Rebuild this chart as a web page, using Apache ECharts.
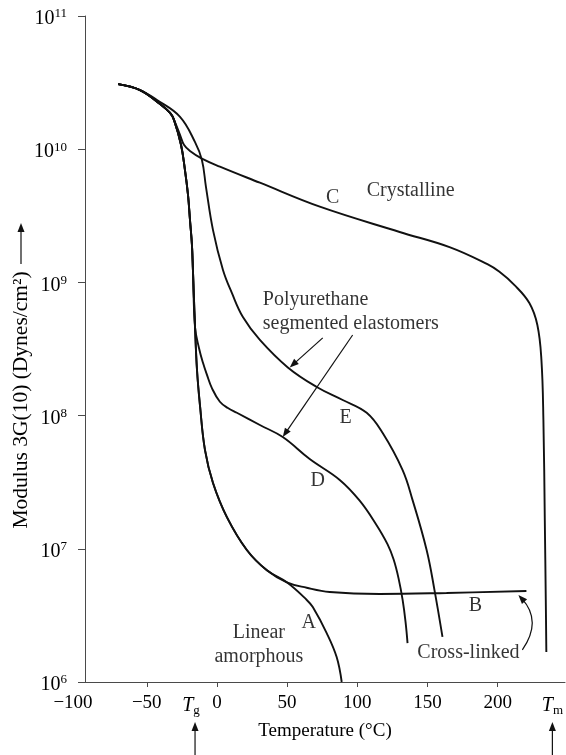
<!DOCTYPE html>
<html>
<head>
<meta charset="utf-8">
<script src="https://cdn.jsdelivr.net/npm/echarts@6/dist/echarts.min.js"></script>
<style>
  html, body { margin: 0; padding: 0; background: #fff; }
  #chart { width: 566px; height: 755px; }
</style>
</head>
<body>
<div id="chart"></div>
<script>
const FONT = '"Liberation Serif", "DejaVu Serif", serif';
const INK = '#111';
const TEXT = '#000';
const AXIS = '#4a4a4a';

// Axis range (°C) and tick / label positions
const xMin = -94;
const xMax = 248;
const xTickValues = [-50, 0, 50, 100, 150, 200];
const xLabelValues = [-94, -50, 0, 50, 100, 150, 200];
const xLabelText = ['−100', '−50', '0', '50', '100', '150', '200'];
const tgTemp = -15.6;   // glass transition
const tmTemp = 239;     // melting point

// Curve A: linear amorphous
const tempA = [-70.4, -54.8, -40.5, -33.4, -30.6, -25.6, -22.8, -20.6, -19.2, -17.8, -17.1, -15.6, -14.2, -12.1, -8.5, -2.8, 7.1, 21.3, 35.6, 49.8, 64.0, 68.3, 78.2, 85.3, 88.9];
const modA = [3.08e10, 2.78e10, 2.18e10, 1.87e10, 1.66e10, 1.08e10, 7.0e9, 4.53e9, 2.94e9, 1.91e9, 1.24e9, 4.6e8, 2.2e8, 1.2e8, 5.5e7, 3.12e7, 1.73e7, 9.8e6, 6.9e6, 5.6e6, 4.13e6, 3.65e6, 2.33e6, 1.54e6, 1.0e6];

// Curve B: cross-linked
const tempB = [-70.4, -54.8, -40.5, -33.4, -30.6, -25.6, -22.8, -20.6, -19.2, -17.8, -17.1, -15.6, -14.2, -12.1, -8.5, -2.8, 7.1, 21.3, 35.6, 49.8, 64.0, 80.4, 115.9, 163.6, 220.5];
const modB = [3.08e10, 2.78e10, 2.18e10, 1.87e10, 1.66e10, 1.08e10, 7.0e9, 4.53e9, 2.94e9, 1.91e9, 1.24e9, 4.6e8, 2.2e8, 1.2e8, 5.5e7, 3.12e7, 1.73e7, 9.8e6, 6.9e6, 5.6e6, 5.1e6, 4.74e6, 4.58e6, 4.66e6, 4.82e6];

// Curve C: crystalline
const tempC = [-70.4, -54.8, -40.5, -33.4, -30.6, -26.3, -23.5, -19.2, -10.7, 2.1, 30.6, 73.3, 130.2, 165.7, 192.7, 201.3, 212.0, 222.6, 228.3, 231.2, 232.6, 233.6, 234.3, 234.7];
const modC = [3.08e10, 2.78e10, 2.18e10, 1.87e10, 1.66e10, 1.28e10, 1.08e10, 9.7e9, 8.5e9, 7.4e9, 5.6e9, 3.7e9, 2.39e9, 1.84e9, 1.37e9, 1.2e9, 9.55e8, 7.0e8, 4.79e8, 2.61e8, 9.3e7, 1.64e7, 4.13e6, 1.68e6];

// Curve D: polyurethane segmented elastomer
const tempD = [-70.4, -54.8, -40.5, -33.4, -30.6, -25.6, -22.8, -20.6, -19.2, -17.8, -17.1, -15.6, -12.8, -10.0, -7.1, -3.5, 2.1, 7.8, 14.2, 30.6, 46.9, 66.1, 87.5, 101.7, 113.0, 121.6, 125.9, 129.4, 132.3, 134.4, 135.8];
const modD = [3.08e10, 2.78e10, 2.18e10, 1.87e10, 1.66e10, 1.08e10, 7.0e9, 4.53e9, 2.94e9, 1.91e9, 1.24e9, 4.6e8, 3.22e8, 2.5e8, 2.02e8, 1.6e8, 1.27e8, 1.14e8, 1.05e8, 8.5e7, 6.9e7, 4.72e7, 3.29e7, 2.3e7, 1.55e7, 1.08e7, 8.3e6, 6.0e6, 4.13e6, 2.82e6, 1.96e6];

// Curve E: polyurethane segmented elastomer
const tempE = [-70.4, -54.8, -42.7, -26.3, -15.6, -10.7, -7.8, -2.8, 4.3, 10.7, 18.5, 30.6, 50.5, 71.1, 89.6, 106.7, 118.1, 132.3, 139.4, 149.4, 155.0, 160.7];
const modE = [3.08e10, 2.78e10, 2.34e10, 1.75e10, 1.13e10, 8.3e9, 5.2e9, 2.47e9, 1.24e9, 8.3e8, 5.5e8, 3.7e8, 2.3e8, 1.64e8, 1.31e8, 1.05e8, 7.4e7, 3.9e7, 2.32e7, 9.8e6, 4.9e6, 2.18e6];

// Text annotations placed in data space
const annoText = ['Crystalline', 'C', 'Polyurethane\nsegmented elastomers', 'E', 'D', 'B', 'A', 'Linear\namorphous', 'Cross-linked'];
const annoTemp = [138, 82.5, 32.7, 91.7, 71.8, 184.2, 65.4, 29.9, 179.2];
const annoMod = [4.85e9, 4.3e9, 6.0e8, 9.6e7, 3.23e7, 3.72e6, 2.77e6, 1.9e6, 1.65e6];
const annoAlign = ['center', 'center', 'left', 'center', 'center', 'center', 'center', 'center', 'center'];

// Pointer arrows (start -> head) in data space, with sideways bend
const arrowStart = [[75.4, 3.83e8], [96.7, 4.03e8], [217.6, 1.74e6]];
const arrowEnd = [[51.9, 2.3e8], [46.9, 6.9e7], [214.8, 4.5e6]];
const arrowBend = [0, 0, 0.4];

const curves = [
  { name: 'A', t: tempA, m: modA },
  { name: 'B', t: tempB, m: modB },
  { name: 'C', t: tempC, m: modC },
  { name: 'D', t: tempD, m: modD },
  { name: 'E', t: tempE, m: modE }
];

function pairs(t, m) { return t.map((v, i) => [v, m[i]]); }

const xLabelMap = {};
xLabelValues.forEach((v, i) => { xLabelMap[v] = '{n|' + xLabelText[i] + '}'; });
xLabelMap[xMin] = '{shift|' + xLabelText[0] + '}';
xLabelMap[tgTemp] = '{it|T}{subg|g}';
xLabelMap[tmTemp] = '{it|T}{sub|m}';

const chart = echarts.init(document.getElementById('chart'), null, { renderer: 'canvas' });

const option = {
  animation: false,
  backgroundColor: '#fff',
  grid: { left: 85, right: 0, top: 16, bottom: 73, containLabel: false },
  xAxis: {
    type: 'value',
    min: xMin,
    max: xMax,
    axisLine: { show: true, onZero: false, lineStyle: { color: AXIS, width: 1 } },
    axisTick: { show: true, length: 5, customValues: xTickValues, lineStyle: { color: AXIS } },
    axisLabel: {
      customValues: xLabelValues.concat([tgTemp, tmTemp]),
      margin: 12,
      formatter: v => xLabelMap[v] || '',
      rich: {
        n: { fontFamily: FONT, fontSize: 19, color: TEXT },
        shift: { fontFamily: FONT, fontSize: 19, color: TEXT, padding: [0, 24, 0, 0] },
        it: { fontFamily: FONT, fontSize: 20, fontStyle: 'italic', color: TEXT },
        sub: { fontFamily: FONT, fontSize: 13, color: TEXT, padding: [10, 0, 0, 0] },
        subg: { fontFamily: FONT, fontSize: 13, color: TEXT, padding: [10, 8, 0, 0] }
      }
    },
    splitLine: { show: false },
    name: 'Temperature (°C)',
    nameLocation: 'middle',
    nameGap: 37,
    nameTextStyle: { fontFamily: FONT, fontSize: 19, color: TEXT }
  },
  yAxis: {
    type: 'log',
    logBase: 10,
    min: 1e6,
    max: 1e11,
    splitNumber: 5,
    axisLine: { show: true, onZero: false, lineStyle: { color: AXIS, width: 1 } },
    axisTick: { show: true, length: 7, lineStyle: { color: AXIS } },
    axisLabel: {
      margin: 18,
      formatter: v => '{b|10}{s|' + Math.round(Math.log10(v)) + '}',
      rich: {
        b: { fontFamily: FONT, fontSize: 20, color: TEXT, padding: [6, 0, 0, 0] },
        s: { fontFamily: FONT, fontSize: 13, color: TEXT, padding: [0, 0, 4, 0] }
      }
    },
    splitLine: { show: false }
  },
  series: curves.map(c => ({
    type: 'line',
    name: c.name,
    data: pairs(c.t, c.m),
    smooth: 0.4,
    showSymbol: false,
    symbol: 'none',
    silent: true,
    clip: false,
    lineStyle: { color: INK, width: 1.9 },
    z: 2
  })).concat([{
    type: 'scatter',
    name: 'labels',
    silent: true,
    symbolSize: 0,
    z: 3,
    data: annoText.map((s, i) => ({
      value: [annoTemp[i], annoMod[i]],
      label: { formatter: s, align: annoAlign[i] }
    })),
    label: {
      show: true,
      position: [0, 0],
      verticalAlign: 'middle',
      fontFamily: FONT,
      fontSize: 20,
      lineHeight: 24,
      color: TEXT
    }
  }])
};

chart.setOption(option);

const toPx = p => chart.convertToPixel({ gridIndex: 0 }, p);
const tgX = chart.convertToPixel({ xAxisIndex: 0 }, tgTemp);
const tmX = chart.convertToPixel({ xAxisIndex: 0 }, tmTemp);

// Filled arrowhead at `tip`, pointing away from `from`
function head(from, tip, len, half) {
  const dx = tip[0] - from[0], dy = tip[1] - from[1];
  const d = Math.hypot(dx, dy) || 1;
  const ux = dx / d, uy = dy / d;
  const bx = tip[0] - ux * len, by = tip[1] - uy * len;
  return {
    type: 'polygon', silent: true, z: 10,
    shape: { points: [[bx - uy * half, by + ux * half], tip, [bx + uy * half, by - ux * half]] },
    style: { fill: '#111' }
  };
}

function pointer(i) {
  const a = toPx(arrowStart[i]), b = toPx(arrowEnd[i]);
  const mx = (a[0] + b[0]) / 2, my = (a[1] + b[1]) / 2;
  // control point pushed sideways from the chord
  const cx = mx + (a[1] - b[1]) * arrowBend[i], cy = my - (a[0] - b[0]) * arrowBend[i];
  const from = arrowBend[i] ? [cx, cy] : a;
  const dx = b[0] - from[0], dy = b[1] - from[1], d = Math.hypot(dx, dy);
  const end = [b[0] - dx / d * 5, b[1] - dy / d * 5];
  return [
    {
      type: 'bezierCurve', silent: true, z: 10,
      shape: { x1: a[0], y1: a[1], x2: end[0], y2: end[1], cpx1: arrowBend[i] ? cx : mx, cpy1: arrowBend[i] ? cy : my },
      style: { stroke: '#111', lineWidth: 1.2, fill: null }
    },
    head(from, b, 9, 3.5)
  ];
}

function upArrow(x, yTop, yBottom) {
  return [
    { type: 'line', silent: true, shape: { x1: x, y1: yBottom, x2: x, y2: yTop + 6 }, style: { stroke: '#111', lineWidth: 1.2 } },
    head([x, yBottom], [x, yTop], 9, 3.5)
  ];
}

let marks = [];
arrowStart.forEach((s, i) => { marks = marks.concat(pointer(i)); });

chart.setOption({
  graphic: [
    {
      type: 'text',
      silent: true,
      x: 21,
      y: 400,
      rotation: Math.PI / 2,
      style: {
        text: 'Modulus 3G(10) (Dynes/cm²)',
        fontFamily: FONT,
        fontSize: 21.5,
        fill: TEXT,
        align: 'center',
        verticalAlign: 'middle'
      }
    }
  ].concat(marks, upArrow(21, 223, 264), upArrow(tgX, 722, 755), upArrow(tmX, 722, 755))
});
</script>
</body>
</html>
